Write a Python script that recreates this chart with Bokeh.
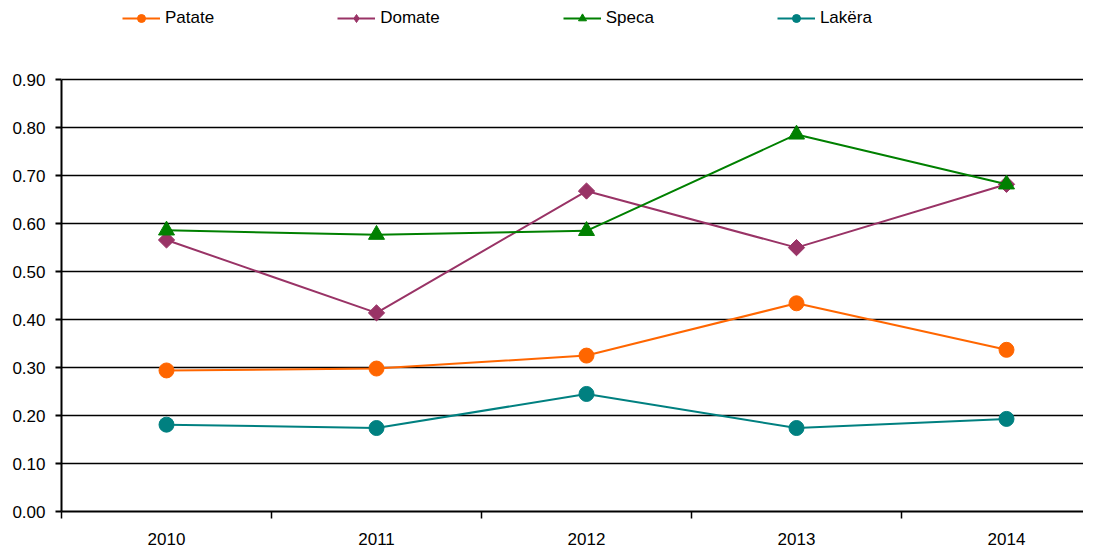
import math
from bokeh.plotting import figure
from bokeh.models import Range1d, FixedTicker, Legend, LegendItem, NumeralTickFormatter, ColumnDataSource
from bokeh.embed import file_html
from bokeh.resources import INLINE

years = [2010, 2011, 2012, 2013, 2014]
year_labels = ["2010", "2011", "2012", "2013", "2014"]
patate = [0.294, 0.298, 0.325, 0.434, 0.337]
domate = [0.566, 0.414, 0.668, 0.550, 0.682]
speca = [0.586, 0.577, 0.585, 0.786, 0.682]
lakera = [0.181, 0.174, 0.245, 0.174, 0.193]
y_ticks = [0.0, 0.1, 0.2, 0.3, 0.4, 0.5, 0.6, 0.7, 0.8, 0.9]

series = [
    ("Patate", patate, "#FF6600", "circle"),
    ("Domate", domate, "#993366", "square"),
    ("Speca", speca, "#008000", "triangle"),
    ("Lakëra", lakera, "#008080", "circle"),
]

W, H = 1083, 547
left, bottom = 61, 31
plot_top = 80                      # pixel row of the top gridline
frame_h = H - bottom               # frame runs to the top of the canvas
step = 210.0
x_end = 2009.5 + (W - left) / step
y_max = y_ticks[-1]
y_end = y_max * frame_h / (frame_h - plot_top)

p = figure(width=W, height=H, output_backend="svg", toolbar_location=None,
           x_range=Range1d(2009.5, x_end), y_range=Range1d(0, y_end),
           min_border_left=left, min_border_right=0, min_border_top=0,
           min_border_bottom=bottom)
p.outline_line_color = None
p.xgrid.grid_line_color = None
p.ygrid.grid_line_color = "black"
p.ygrid.grid_line_width = 1.6
p.ygrid.ticker = FixedTicker(ticks=y_ticks)

p.yaxis.ticker = FixedTicker(ticks=y_ticks)
p.yaxis.bounds = (y_ticks[0], y_max)
p.yaxis.formatter = NumeralTickFormatter(format="0.00")
p.xaxis.ticker = FixedTicker(ticks=years, minor_ticks=[y - 0.5 for y in years] + [2014.5])
p.xaxis.major_label_overrides = {y: l for y, l in zip(years, year_labels)}

for ax in (p.xaxis[0], p.yaxis[0]):
    ax.axis_line_color = "black"
    ax.axis_line_width = 2
    ax.major_label_text_font = "Liberation Sans"
    ax.major_label_text_font_size = "17px"
    ax.major_label_text_color = "black"

p.yaxis.major_tick_out = 6
p.yaxis.major_tick_in = 0
p.yaxis.major_tick_line_width = 2
p.yaxis.minor_tick_line_color = None
p.yaxis.major_label_standoff = 10

p.xaxis.major_tick_line_color = None
p.xaxis.major_tick_out = 0
p.xaxis.minor_tick_out = 7
p.xaxis.minor_tick_in = 0
p.xaxis.minor_tick_line_width = 1.5
p.xaxis.minor_tick_line_color = "black"
p.xaxis.major_label_standoff = 14

items = []
for name, vals, color, marker in series:
    src = ColumnDataSource(dict(x=years, y=vals))
    ang = math.pi / 4 if marker == "square" else 0.0
    # legend renderers: drawn first, small markers hidden under the big ones
    lr = p.line("x", "y", source=src, line_color=color, line_width=2)
    lmarker = "diamond" if marker == "square" else marker
    lsz = 12 if marker == "square" else 10
    ls = p.scatter("x", "y", source=src, marker=lmarker, size=lsz,
                   fill_color=color, line_color=color)
    if marker == "circle":
        size = 15
    elif marker == "square":
        size = 11.5
    else:
        size = 16
    p.scatter("x", "y", source=src, marker=marker, size=size, angle=ang,
              fill_color=color, line_color=color)
    items.append(LegendItem(label=name, renderers=[lr, ls]))

legend = Legend(items=items, orientation="horizontal",
                location=(122 - left, frame_h - 33),
                border_line_color=None, background_fill_alpha=0, padding=0, margin=0,
                spacing=123, glyph_width=38, glyph_height=20, label_standoff=5,
                label_text_font="Liberation Sans", label_text_font_size="17px",
                label_text_color="black", label_height=20)
p.add_layout(legend, "center")

open("out.html", "w").write(file_html(p, INLINE))
